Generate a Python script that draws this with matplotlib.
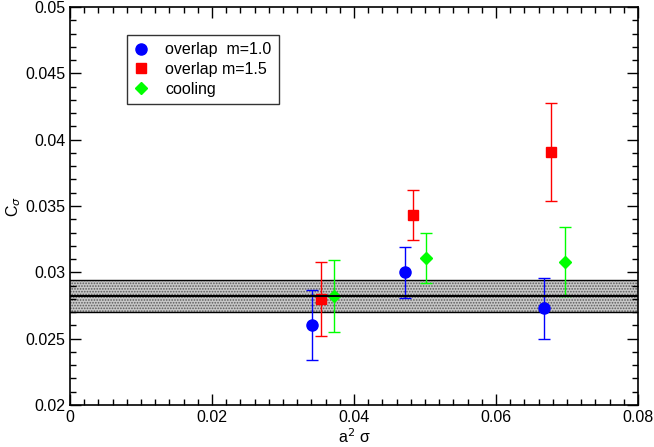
import matplotlib
matplotlib.use("Agg")
import matplotlib.pyplot as plt
from matplotlib.ticker import MultipleLocator
from matplotlib.lines import Line2D

plt.rcParams['font.family'] = ['Liberation Sans', 'DejaVu Sans']
plt.rcParams['hatch.color'] = '#5a5a5a'
plt.rcParams['hatch.linewidth'] = 0.8

# data
x_m10 = [0.0341, 0.0472, 0.0668]
y_m10 = [0.0260, 0.0300, 0.0273]
lo_m10 = [0.0234, 0.0281, 0.0250]
hi_m10 = [0.0287, 0.0319, 0.0296]

x_m15 = [0.0353, 0.0483, 0.0677]
y_m15 = [0.0280, 0.0343, 0.0391]
lo_m15 = [0.0252, 0.0324, 0.0354]
hi_m15 = [0.0308, 0.0362, 0.0428]

x_cool = [0.0372, 0.0502, 0.0697]
y_cool = [0.0282, 0.0311, 0.0308]
lo_cool = [0.0255, 0.0292, 0.0282]
hi_cool = [0.0309, 0.0330, 0.0334]

band_center = 0.0282
band_lo = 0.0270
band_hi = 0.0294

labels = ['overlap  m=1.0', 'overlap m=1.5', 'cooling']

fig = plt.figure(figsize=(6.54, 4.47), dpi=100)
ax = fig.add_axes([70/654, 1-405/447, 568/654, 398/447])

def yerr(y, lo, hi):
    return [[a - b for a, b in zip(y, lo)], [b - a for a, b in zip(y, hi)]]

ax.fill_between([0, 0.08], [band_lo, band_lo], [band_hi, band_hi], facecolor='#c8c8c8',
                hatch='......', edgecolor='#5a5a5a', linewidth=0, zorder=1)
ax.axhline(band_lo, color='black', lw=1.0, zorder=2)
ax.axhline(band_hi, color='black', lw=1.0, zorder=2)

ax.errorbar(x_m10, y_m10, yerr=yerr(y_m10, lo_m10, hi_m10), fmt='o', color='#0000ff',
            ecolor='#0000ff', elinewidth=1.0, capsize=4.5, markersize=8, zorder=3)
ax.errorbar(x_m15, y_m15, yerr=yerr(y_m15, lo_m15, hi_m15), fmt='s', color='#ff0000',
            ecolor='#ff0000', elinewidth=1.0, capsize=4.5, markersize=6.5, zorder=3)
ax.errorbar(x_cool, y_cool, yerr=yerr(y_cool, lo_cool, hi_cool), fmt='D', color='#00ff00',
            ecolor='#00ff00', elinewidth=1.0, capsize=4.5, markersize=6, zorder=3)

ax.axhline(band_center, color='black', lw=1.5, zorder=4)

ax.set_xlim(0, 0.08)
ax.set_ylim(0.02, 0.05)
ax.xaxis.set_minor_locator(MultipleLocator(0.002))
ax.yaxis.set_minor_locator(MultipleLocator(0.001))
ax.set_xticks([0, 0.02, 0.04, 0.06, 0.08])
ax.set_xticklabels(['0', '0.02', '0.04', '0.06', '0.08'])
ax.set_yticks([0.02, 0.025, 0.03, 0.035, 0.04, 0.045, 0.05])
ax.set_yticklabels(['0.02', '0.025', '0.03', '0.035', '0.04', '0.045', '0.05'])
ax.tick_params(which='both', direction='in', top=True, right=True, labelsize=11.5)
ax.tick_params(which='major', length=8, width=1)
ax.tick_params(which='minor', length=4, width=1)
for s in ax.spines.values():
    s.set_linewidth(1.2)

ax.set_xlabel('a$^{2}$ σ', fontsize=11.5, labelpad=2)
fig.text(14/654, 1-206/447, 'C$_{σ}$', fontsize=11.5, rotation=90, ha='center', va='center')

handles = [
    Line2D([], [], ls='none', marker='o', color='#0000ff', markersize=8),
    Line2D([], [], ls='none', marker='s', color='#ff0000', markersize=6.5),
    Line2D([], [], ls='none', marker='D', color='#00ff00', markersize=6),
]
leg = ax.legend(handles, labels, loc='upper left', bbox_to_anchor=(57/568, 1-28/398), frameon=True,
                fancybox=False, edgecolor='black', fontsize=11.5, handlelength=0.9, handletextpad=1.05,
                labelspacing=0.3, borderpad=0.45, borderaxespad=0)
leg.get_frame().set_linewidth(1.0)

fig.savefig('out.png', dpi=100)
